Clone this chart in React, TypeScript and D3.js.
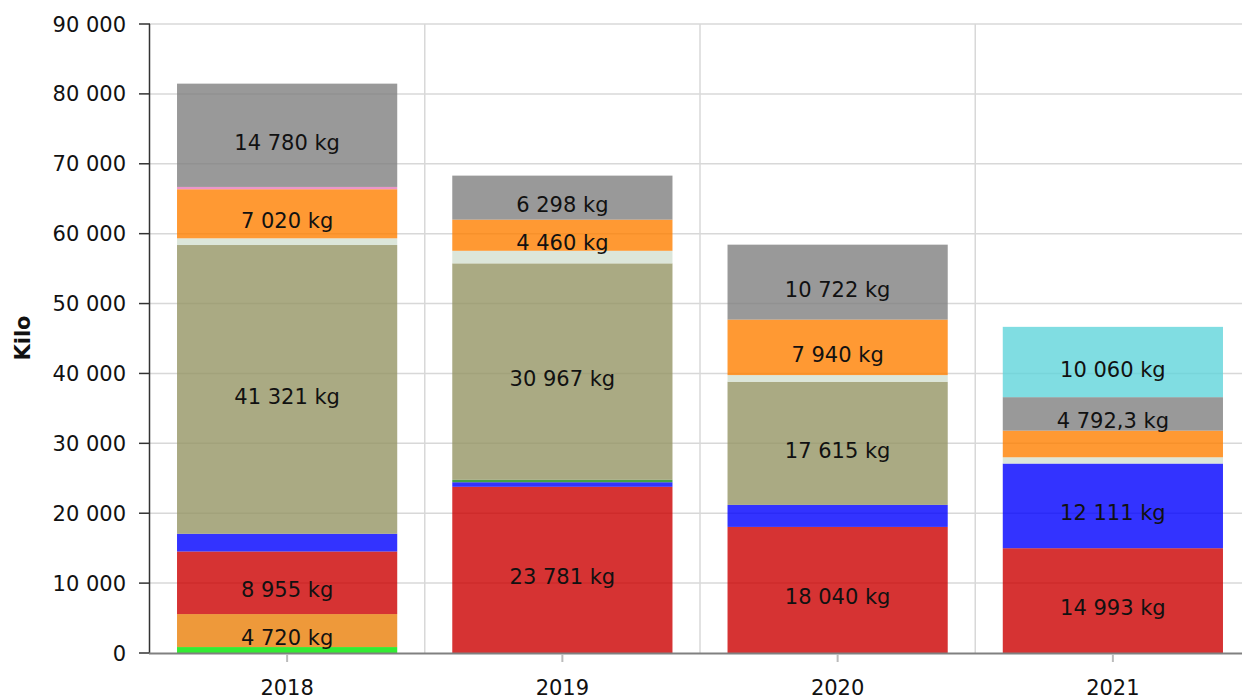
import React from "react";
import * as d3 from "d3";

const years = ["2018", "2019", "2020", "2021"];
const seriesNames = ["s1", "s2", "s3", "s4", "s5", "s6", "s7", "s8", "s9", "s10", "s11"];
const greenBottom = [850, 0, 0, 0];
const orangeBottom = [4720, 0, 0, 0];
const red = [8955, 23781, 18040, 14993];
const blue = [2530, 650, 3150, 12111];
const greenThin = [0, 350, 0, 0];
const olive = [41321, 30967, 17615, 0];
const lightGreen = [960, 1800, 960, 900];
const orange = [7020, 4460, 7940, 3810];
const pink = [330, 0, 0, 0];
const grey = [14780, 6298, 10722, 4792.3];
const cyan = [0, 0, 0, 10060];
const seriesColors = ["#00e600", "#ea8009", "#cc0000", "#0000ff", "#158815", "#959564", "#d3e0d1", "#ff8000", "#e67cba", "#808080", "#60d4db"];
const yTicks = [0, 10000, 20000, 30000, 40000, 50000, 60000, 70000, 80000, 90000];

const W = 1242;
const H = 698;
const FONT = "'DejaVu Sans', Verdana, sans-serif";

export default function App() {
  const seriesVals = [greenBottom, orangeBottom, red, blue, greenThin, olive, lightGreen, orange, pink, grey, cyan];
  const table = years.map((y, i) => {
    const row: any = { year: y };
    seriesNames.forEach((n, j) => (row[n] = seriesVals[j][i]));
    return row;
  });
  const stacked = d3.stack<any>().keys(seriesNames)(table);

  const x = d3.scaleBand().domain(years).range([149.5, 1250.5]).paddingInner(0.2).paddingOuter(0.1);
  const y = d3.scaleLinear().domain([0, 90000]).range([653, 24]);
  const locale = d3.formatLocale({ decimal: ",", thousands: " ", grouping: [3], currency: ["", ""] });
  const fmt = locale.format(",");
  const step = x.step();

  return (
    <svg width={W} height={H} style={{ position: "absolute", left: 0, top: 0 }} fontFamily={FONT}>
      <rect width={W} height={H} fill="#fff" />
      {/* grid */}
      {yTicks.slice(1).map((t) => (
        <line key={"hg" + t} x1={150} x2={W} y1={y(t)} y2={y(t)} stroke="#d8d8d8" strokeWidth={1.5} />
      ))}
      {years.slice(1).map((yr) => (
        <line key={"vg" + yr} x1={(x(yr) as number) - (step - x.bandwidth()) / 2} x2={(x(yr) as number) - (step - x.bandwidth()) / 2} y1={24} y2={653} stroke="#d8d8d8" strokeWidth={1.5} />
      ))}
      {/* bars */}
      {stacked.map((s, si) =>
        s.map((d, i) => {
          const h = y(d[0]) - y(d[1]);
          if (h <= 0) return null;
          return (
            <rect key={si + "-" + i} x={x(years[i])} width={x.bandwidth()} y={y(d[1])} height={h} fill={seriesColors[si]} fillOpacity={0.8} />
          );
        })
      )}
      {/* labels */}
      {stacked.map((s, si) =>
        s.map((d, i) => {
          const v = d[1] - d[0];
          if (v < 4000) return null;
          const mid = (y(d[0]) + y(d[1])) / 2;
          return (
            <text key={"l" + si + "-" + i} x={(x(years[i]) as number) + x.bandwidth() / 2} y={mid + 14.5} textAnchor="middle" fontSize={21} fill="#111">
              {fmt(seriesVals[si][i]) + " kg"}
            </text>
          );
        })
      )}
      {/* y axis */}
      <line x1={149.5} x2={149.5} y1={24} y2={653} stroke="#333" strokeWidth={1.5} />
      {yTicks.map((t) => (
        <g key={"yt" + t}>
          <line x1={139} x2={150} y1={y(t)} y2={y(t)} stroke="#333" strokeWidth={1.5} />
          <text x={126} y={y(t) + 7.5} textAnchor="end" fontSize={21} fill="#111">
            {fmt(t)}
          </text>
        </g>
      ))}
      {/* x axis */}
      <line x1={149} x2={W} y1={653.5} y2={653.5} stroke="#808080" strokeWidth={2} />
      {years.map((yr) => {
        const cx = (x(yr) as number) + x.bandwidth() / 2;
        return (
          <g key={"xt" + yr}>
            <line x1={cx} x2={cx} y1={654} y2={662} stroke="#bbbbbb" strokeWidth={2} />
            <text x={cx} y={694.5} textAnchor="middle" fontSize={21} fill="#111">
              {yr}
            </text>
          </g>
        );
      })}
      <text transform="translate(30,338) rotate(-90)" textAnchor="middle" fontSize={21} fontWeight="bold" fill="#111">
        Kilo
      </text>
    </svg>
  );
}
